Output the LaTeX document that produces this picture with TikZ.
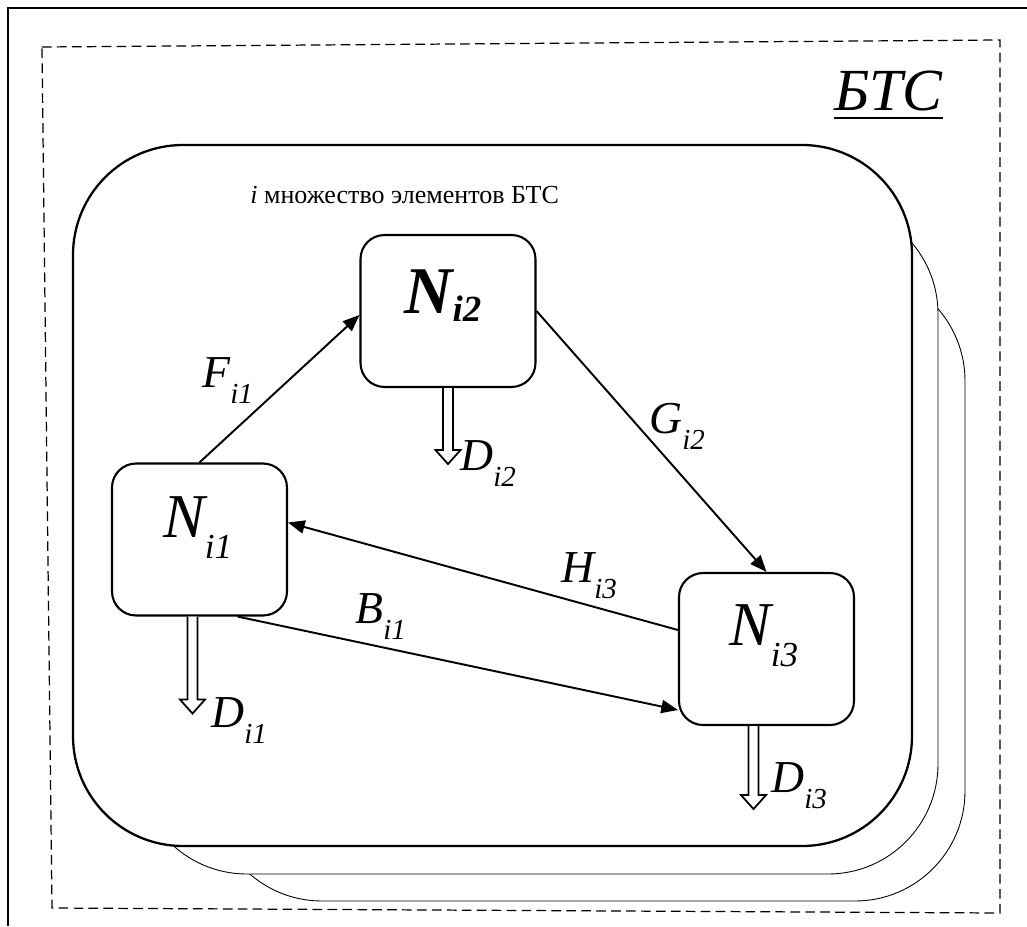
\documentclass[tikz,border=0pt]{standalone}
\usepackage{fontspec}
\setmainfont{Liberation Serif}
\usetikzlibrary{arrows.meta,calc}
\newcommand\bigsub[2]{{\fontsize{35.5}{35.5}\selectfont\itshape #1}\raisebox{-12pt}{\fontsize{20}{20}\selectfont\itshape #2}}
\newcommand\boldsub[2]{{\fontsize{38}{38}\selectfont\bfseries\itshape #1}\raisebox{-5pt}{\fontsize{21}{21}\selectfont\bfseries\itshape #2}}
\newcommand\smallsub[2]{{\fontsize{26}{26}\selectfont\itshape #1}\raisebox{-9.5pt}{\fontsize{16.5}{16.5}\selectfont\itshape #2}}
\tikzset{
 nbox/.style={draw, line width=1.2pt, rounded corners=0.48cm, fill=white, minimum width=3.5cm, minimum height=3.04cm, inner sep=0pt},
 arr/.style={line width=1.1pt, -{Triangle[length=9.5pt,width=7.5pt]}},
 lbl/.style={anchor=base west, inner sep=0pt},
 bigR/.style={draw, line width=1.3pt, rounded corners=2.2cm, fill=white},
 shadowR/.style={draw, line width=0.5pt, rounded corners=2.2cm, fill=white},
 frameline/.style={line width=1.1pt},
 dashframe/.style={line width=0.7pt, dash pattern=on 5.5pt off 3pt},
 pics/hollowdown/.style={code={\draw[line width=1pt, fill=white, line join=miter] (-5,0) -- (-5,#1) -- (-12.5,#1) -- (0,#1+14) -- (12.5,#1) -- (5,#1) -- (5,0);}},
}
\begin{document}
\begin{tikzpicture}[x=0.02cm,y=-0.02cm]
\useasboundingbox (0,0) rectangle (1027,926);
% outer frame (cropped)
\draw[frameline] (8,926) -- (8,8) -- (1027,8);
% dashed frame
\draw[dashframe] (42,47) -- (1000,40) -- (1000,913) -- (52,908) -- cycle;
% title
\node[lbl] (btc) at (834,111) {\fontsize{34}{34}\selectfont\itshape БТС};
\draw[line width=1.7pt] ($(btc.base west)+(0,7)$) -- ($(btc.base east)+(0,7)$);
% stacked sets
\draw[shadowR] (212,271) rectangle (965,901);
\draw[shadowR] (137,204) rectangle (938,874);
\draw[bigR] (73,145) rectangle (912,846);
\node[lbl] (title) at (250,203) {\fontsize{14.8}{14.8}\selectfont{\itshape i} множество элементов БТС};
% element boxes
\node[nbox] (n1) at (199.5,539.5) {};
\node[nbox] (n2) at (448,311) {};
\node[nbox] (n3) at (766.5,649) {};
\node[lbl] (ln1) at (163,537) {\bigsub{N}{i1}};
\node[lbl] (ln2) at (404,313) {\boldsub{N}{i2}};
\node[lbl] (ln3) at (729,645) {\bigsub{N}{i3}};
% outputs
\pic at ($(n1.south)+(-7,0)$) {hollowdown=83};
\pic at (n2.south) {hollowdown=62};
\pic at ($(n3.south)+(-13,0)$) {hollowdown=69};
\node[lbl] (ld1) at (211,727) {\smallsub{D}{i1}};
\node[lbl] (ld2) at (460,470) {\smallsub{D}{i2}};
\node[lbl] (ld3) at (771,792) {\smallsub{D}{i3}};
% flows
\draw[arr] (n1.north) -- ($(n2.west)+(0,4)$);
\draw[arr] (n2.east) -- (n3.north);
\draw[arr] ($(n3.west)+(0,-19)$) -- ($(n1.east)+(0,-17)$);
\draw[arr] ($(n1.south)+(38,0)$) -- ($(n3.west)+(0,61)$);
\node[lbl] (lf) at (202,387) {\smallsub{F}{i1}};
\node[lbl] (lg) at (649,433) {\smallsub{G}{i2}};
\node[lbl] (lh) at (561,582) {\smallsub{H}{i3}};
\node[lbl] (lb) at (355,623) {\smallsub{B}{i1}};
\end{tikzpicture}
\end{document}
